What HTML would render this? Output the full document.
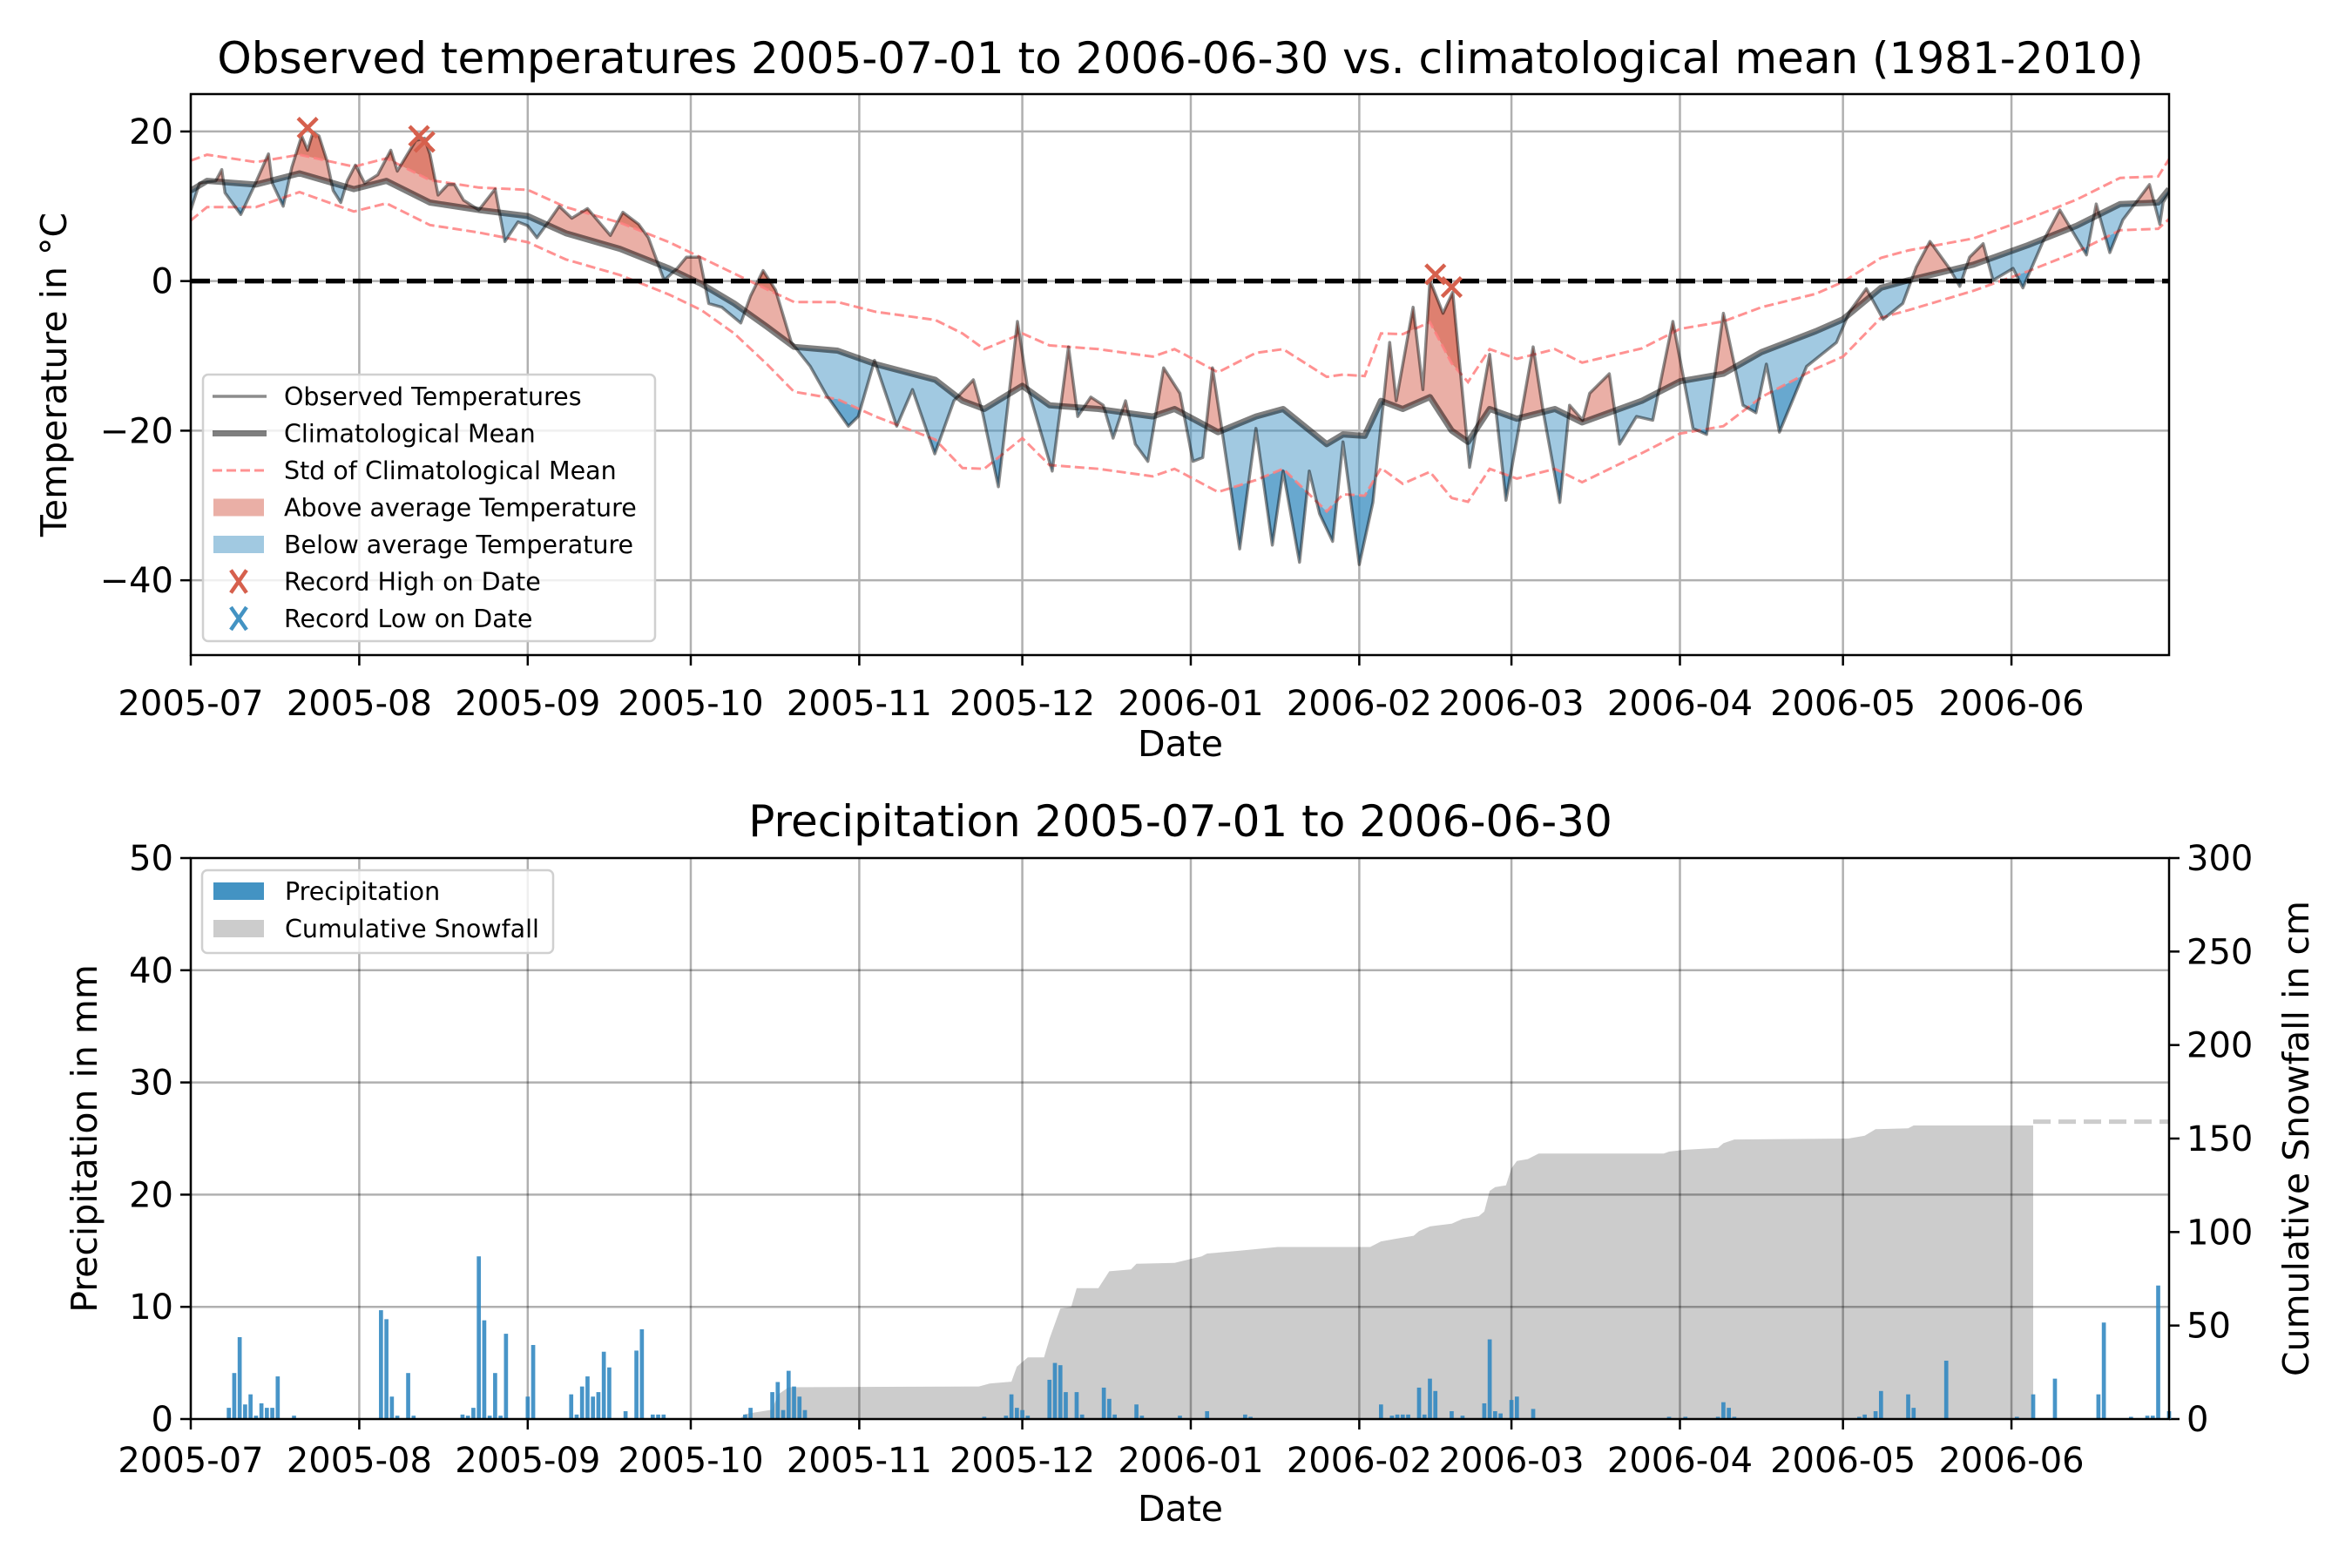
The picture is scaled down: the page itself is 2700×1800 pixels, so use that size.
<!DOCTYPE html>
<html><head><meta charset="utf-8">
<style>
html,body{margin:0;padding:0;background:#fff;}
svg{display:block;font-family:"DejaVu Sans","Liberation Sans",sans-serif;}
</style></head>
<body>
<svg id="fig" xmlns="http://www.w3.org/2000/svg" width="2700" height="1800" viewBox="0 0 2700 1800">
<rect x="0" y="0" width="2700" height="1800" fill="#fff"/>
<defs></defs>
<text x="1355" y="84" font-size="50" text-anchor="middle">Observed temperatures 2005-07-01 to 2006-06-30 vs. climatological mean (1981-2010)</text>
<text x="1355" y="960" font-size="50" text-anchor="middle">Precipitation 2005-07-01 to 2006-06-30</text>
<text transform="translate(76,430) rotate(-90)" font-size="41" text-anchor="middle">Temperature in °C</text>
<text transform="translate(111,1307) rotate(-90)" font-size="41" text-anchor="middle">Precipitation in mm</text>
<text transform="translate(2650,1307) rotate(-90)" font-size="41" text-anchor="middle">Cumulative Snowfall in cm</text>
<text x="1355" y="868" font-size="41" text-anchor="middle">Date</text>
<text x="1355" y="1746" font-size="41" text-anchor="middle">Date</text>
<g id="topPanel"></g>
<g id="botPanel"></g>
</svg>
<script>
const monthLabels=["2005-07","2005-08","2005-09","2005-10","2005-11","2005-12","2006-01","2006-02","2006-03","2006-04","2006-05","2006-06"];
const monthDays=[0,31,62,92,123,153,184,215,243,274,304,335];
const tempTicks=[20,0,-20,-40];
const precipTicks=[0,10,20,30,40,50];
const snowTicks=[0,50,100,150,200,250,300];
const meanDays=[0,3,12,20,30,36,44,53,62,69,79,88,94,100,106,111,119,126,137,142,146,153,158,167,177,181,189,196,201,209,212,216,219,223,228,232,235,239,244,251,256,267,274,282,289,299,304,311,316,328,338,347,355,362,364];
const meanVals=[12.1,13.4,12.9,14.4,12.3,13.4,10.5,9.5,8.7,6.4,4.3,1.7,-0.4,-3.0,-6.1,-8.8,-9.3,-11.1,-13.2,-16,-17.1,-14,-16.6,-17.1,-18.1,-17.1,-20.2,-18.1,-17.1,-21.8,-20.5,-20.7,-16,-17.1,-15.5,-20,-21.5,-17.1,-18.4,-17.1,-18.9,-16,-13.4,-12.4,-9.5,-6.7,-5.1,-0.9,0.1,2.2,4.8,7.4,10.3,10.5,12.3];
const stdVals=[4,3.5,3,2.5,3,3,3,3,3.5,3.5,3.5,3.5,3.5,4,5,6,6.5,7,8,9,8,7,8,8,8,8,8,8.5,8,9,8,8,9,10,10,9,8,8,8,8,8,7,7,7,6,5,5,4,4,3.5,3.5,3.5,3.5,3.5,4];
const obsDays=[0,1.6,4.6,5.7,6.3,9.2,11.6,14.3,15,17,18.6,20.4,21.5,22.5,23.6,25,26.2,27.6,28.8,30.3,32,34.4,36.8,38,41.4,43,44,45.5,47.3,48.5,50.2,53,56,57.8,60.2,62,63.7,65.5,67.8,70.1,73,77.2,79.5,82.4,84.2,87.1,89.5,91.2,93.6,95.3,97.7,101.2,103,105.3,107.6,110.5,114,117,121,122.8,125.8,129.9,132.8,136.9,140.4,144,145.7,148.6,152.1,153.9,158.5,161.5,163.2,165.6,167.9,169.7,172,173.8,176.1,179,182,184.4,186.2,188,189.9,193,196,199,201,204,205.8,207.7,210.1,212,215,217.5,220.6,221.8,224.9,226.7,228,230.4,232.2,235.3,239,242,247,248.8,251.9,253.7,256.1,257.4,261,262.9,266,269,272.7,276.4,278.9,282,285.6,288,289.9,292.3,297.3,302.8,305.2,308.3,311.4,315,317.5,320,323.6,325.5,327.3,329.8,331.6,335.3,337.1,340.8,343.9,348.8,350.6,353.1,355.5,360.4,362.3,362.9,364];
const obsVals=[9.5,13.1,13.4,14.9,11.8,8.9,12.6,17,13.1,10,15.2,19.4,17.5,19.9,19.4,16.2,12.1,10.5,13.4,15.5,13.1,14.2,17.5,14.7,18.8,19.1,17,11.5,12.9,12.9,10.8,9.5,12.3,5.3,7.9,7.4,5.8,7.6,10,8.4,9.7,6.1,9.2,7.6,5.8,0.1,1.7,3.2,3.2,-3,-3.5,-5.6,-2,1.4,-1.2,-8.2,-11.4,-15.3,-19.4,-18.1,-10.6,-19.4,-14.5,-23.1,-16,-13.2,-17.6,-27.5,-5.4,-14,-25.4,-8.8,-18.1,-15.5,-16.6,-21,-16,-21.8,-24.1,-11.6,-15,-24.1,-23.6,-11.6,-20.7,-35.8,-19.7,-35.3,-25.4,-37.6,-25.4,-31.1,-34.8,-21.5,-37.9,-29.6,-8.2,-16,-3.5,-14.5,0.1,-4.3,-1.5,-24.9,-9.8,-29.3,-8.8,-17.3,-29.6,-16.6,-18.6,-15,-12.4,-21.8,-18.1,-18.6,-5.4,-19.7,-20.5,-4.3,-16.6,-17.6,-11.1,-20.2,-11.4,-8.2,-4.1,-1,-5.1,-3,1.9,5.3,1.7,-0.7,3.2,5,0.1,1.7,-0.9,5.3,9.5,3.5,10.3,3.8,8.2,12.9,7.6,10.5,11.8];
const recordDays=[21.5,42,43,229,232];
const recordVals=[20.5,19.4,18.6,0.9,-0.8];
const precipDays=[7,8,9,10,11,12,13,14,15,16,19,35,36,37,38,40,41,50,51,52,53,54,55,56,57,58,62,63,70,71,72,73,74,75,76,77,80,82,83,85,86,87,102,103,107,108,109,110,111,112,113,146,150,151,152,153,154,158,159,160,161,163,164,168,169,170,174,175,182,187,194,195,219,221,222,223,224,226,227,228,229,232,234,238,239,240,241,243,244,247,272,275,281,282,283,284,307,308,310,311,316,317,323,336,339,343,351,352,357,360,361,362,364];
const precipVals=[1,4.1,7.3,1.3,2.2,0.3,1.4,1,1,3.8,0.3,9.7,8.9,2,0.3,4.1,0.3,0.4,0.3,1,14.5,8.8,0.3,4.1,0.3,7.6,2,6.6,2.2,0.4,2.9,3.8,2,2.4,6,4.6,0.7,6.1,8,0.4,0.4,0.4,0.4,1,2.4,3.3,0.8,4.3,2.9,2,0.8,0.2,0.3,2.2,1,0.8,0.3,3.5,5,4.8,2.4,2.4,0.4,2.8,1.8,0.4,1.3,0.3,0.3,0.7,0.4,0.2,1.3,0.3,0.4,0.4,0.4,2.8,0.4,3.6,2.5,0.7,0.3,1.4,7.1,0.7,0.5,1.7,2,0.9,0.2,0.2,0.2,1.5,1,0.2,0.2,0.4,0.7,2.5,2.2,1,5.2,0.2,2.2,3.6,2.2,8.6,0.2,0.3,0.3,11.9,0.7];
const snowDays=[101,102,107,108,110,145,147,151,152,154,157,158,160,162,163,167,169,173,174,181,186,187,193,200,217,219,222,225,226,228,232,234,237,238,239,240,242,243,244,246,248,271,272,275,281,282,284,305,308,310,316,317,339];
const snowVals=[0,2.7,5,13,17,17.4,19,20,28,33,33,43,59,60,70,70,79,80,83,83.5,87,88.5,90,92,92,95,96.5,98,100.5,103,104.5,107,108.5,111,122,124,125,134,138,139,142,142,143,144,145,147.5,149.5,150,151.5,155,155.5,157,157];
const snowSeasonTotal=159;

const NS="http://www.w3.org/2000/svg";
const X0=219,X1=2490;
const xd=d=>X0+(X1-X0)*d/364;
const T_TOP=108,T_BOT=752;
const yt=v=>T_BOT-(v+50)/75*(T_BOT-T_TOP);
const B_TOP=985,B_BOT=1629;
const yp=v=>B_BOT-v/50*(B_BOT-B_TOP);
const ys=v=>B_BOT-v/300*(B_BOT-B_TOP);
function mk(tag,attrs,parent){const e=document.createElementNS(NS,tag);for(const k in attrs)e.setAttribute(k,attrs[k]);parent.appendChild(e);return e;}
const svgEl=document.getElementById('fig');
const defsEl=svgEl.querySelector('defs');
const topG=document.getElementById('topPanel');
const botG=document.getElementById('botPanel');
const TF=40, LF=28.5;

// ---------- top panel ----------
for(let i=0;i<monthDays.length;i++){
 const g=mk('line',{x1:xd(monthDays[i]),x2:xd(monthDays[i]),y1:T_TOP,y2:T_BOT,stroke:'#b0b0b0','stroke-width':2.5},topG);
 
 
 const t=mk('line',{x1:xd(monthDays[i]),x2:xd(monthDays[i]),y1:T_BOT,y2:T_BOT+12,stroke:'#000','stroke-width':2.5},topG);
 
 
 const l=mk('text',{x:xd(monthDays[i]),y:T_BOT+69,'font-size':TF,'text-anchor':'middle'},topG);
 l.textContent=monthLabels[i];
 
 
}
for(const v of tempTicks){
 const g=mk('line',{x1:X0,x2:X1,y1:yt(v),y2:yt(v),stroke:'#b0b0b0','stroke-width':2.5},topG);
 
 
 const t=mk('line',{x1:X0-12,x2:X0,y1:yt(v),y2:yt(v),stroke:'#000','stroke-width':2.5},topG);
 
 
 const l=mk('text',{x:X0-20,y:yt(v)+14,'font-size':TF,'text-anchor':'end'},topG);
 l.textContent=(v<0?'\u2212'+(-v):String(v));
 
 
}
const meanPts=meanDays.map((d,i)=>[xd(d),yt(meanVals[i])]);
const upPts=meanDays.map((d,i)=>[xd(d),yt(meanVals[i]+stdVals[i])]);
const loPts=meanDays.map((d,i)=>[xd(d),yt(meanVals[i]-stdVals[i])]);
const obsPts=obsDays.map((d,i)=>[xd(d),yt(obsVals[i])]);
const ps=a=>a.map(p=>p[0].toFixed(1)+','+p[1].toFixed(1)).join(' ');
function clip(id,pts,above){
 const c=mk('clipPath',{id:id},defsEl);
 const edge=above?T_TOP-50:T_BOT+50;
 mk('polygon',{points:ps(pts)+' '+(X1+20)+','+pts[pts.length-1][1]+' '+(X1+20)+','+edge+' '+(X0-20)+','+edge+' '+(X0-20)+','+pts[0][1]},c);
}
clip('cAboveMean',meanPts,true);clip('cBelowMean',meanPts,false);
clip('cAboveUp',upPts,true);clip('cBelowLo',loPts,false);
const cp=mk('clipPath',{id:'cPlot'},defsEl);
mk('rect',{x:X0,y:T_TOP,width:X1-X0,height:T_BOT-T_TOP},cp);
const series=mk('g',{'clip-path':'url(#cPlot)'},topG);
const betweenMean=ps(obsPts)+' '+ps(meanPts.slice().reverse());
const fa=mk('polygon',{points:betweenMean,fill:'#d6604d','fill-opacity':0.5,'clip-path':'url(#cAboveMean)'},series);


const fb=mk('polygon',{points:betweenMean,fill:'#4393c3','fill-opacity':0.5,'clip-path':'url(#cBelowMean)'},series);


const fa2=mk('polygon',{points:ps(obsPts)+' '+ps(upPts.slice().reverse()),fill:'#d6604d','fill-opacity':0.6,'clip-path':'url(#cAboveUp)'},series);


const fb2=mk('polygon',{points:ps(obsPts)+' '+ps(loPts.slice().reverse()),fill:'#4393c3','fill-opacity':0.6,'clip-path':'url(#cBelowLo)'},series);


const su=mk('polyline',{points:ps(upPts),fill:'none',stroke:'#ff7f7f','stroke-opacity':0.85,'stroke-width':3,'stroke-dasharray':'11,5'},series);


const sl=mk('polyline',{points:ps(loPts),fill:'none',stroke:'#ff7f7f','stroke-opacity':0.85,'stroke-width':3,'stroke-dasharray':'11,5'},series);


const ml=mk('polyline',{points:ps(meanPts),fill:'none',stroke:'#000','stroke-opacity':0.5,'stroke-width':7,'stroke-linejoin':'round'},series);


const ol=mk('polyline',{points:ps(obsPts),fill:'none',stroke:'#000','stroke-opacity':0.45,'stroke-width':3.5,'stroke-linejoin':'round'},series);


const zl=mk('line',{x1:X0,x2:X1,y1:yt(0),y2:yt(0),stroke:'#000','stroke-width':5.5,'stroke-dasharray':'22,9'},series);


for(let i=0;i<recordDays.length;i++){
 const cx=xd(recordDays[i]),cy=yt(recordVals[i]),r=11;
 const m=mk('path',{d:`M${cx-r},${cy-r}L${cx+r},${cy+r}M${cx-r},${cy+r}L${cx+r},${cy-r}`,stroke:'#d6604d','stroke-width':4.5},series);
 
 
}
const tf=mk('rect',{x:X0,y:T_TOP,width:X1-X0,height:T_BOT-T_TOP,fill:'none',stroke:'#000','stroke-width':2.5},topG);


// top legend
const lg=mk('g',{},topG);


mk('rect',{x:233,y:430,width:519,height:306,rx:6,fill:'#fff','fill-opacity':0.8,stroke:'#d0d0d0','stroke-width':2.5},lg);
const legItems=[['line','#000',0.45,3.5,'Observed Temperatures'],['line','#000',0.5,7,'Climatological Mean'],['dash','#ff7f7f',0.85,3,'Std of Climatological Mean'],['patch','#d6604d',0.5,0,'Above average Temperature'],['patch','#4393c3',0.5,0,'Below average Temperature'],['x','#d6604d',1,4.5,'Record High on Date'],['x','#4393c3',1,4.5,'Record Low on Date']];
legItems.forEach((it,i)=>{
 const cy=455+i*42.5;
 const g=mk('g',{},lg);
 
 
 if(it[0]==='line'||it[0]==='dash'){mk('line',{x1:244,x2:306,y1:cy,y2:cy,stroke:it[1],'stroke-opacity':it[2],'stroke-width':it[3],'stroke-dasharray':it[0]==='dash'?'11,5':'none'},g);}
 else if(it[0]==='patch'){mk('rect',{x:245,y:cy-10,width:58,height:20,fill:it[1],'fill-opacity':it[2]},g);}
 else{mk('path',{d:`M265,${cy-13}L283,${cy+13}M265,${cy+13}L283,${cy-13}`,stroke:it[1],'stroke-width':4.5},g);}
 const t=mk('text',{x:326,y:cy+10,'font-size':LF},g);t.textContent=it[4];
});

// ---------- bottom panel ----------
const snowPts=snowDays.map((d,i)=>[xd(d),ys(snowVals[i])]);
const sf=mk('polygon',{points:xd(snowDays[0])+','+B_BOT+' '+ps(snowPts)+' '+xd(snowDays[snowDays.length-1])+','+B_BOT,fill:'#cccccc'},botG);


const sd=mk('line',{x1:xd(snowDays[snowDays.length-1]),x2:X1,y1:ys(snowSeasonTotal),y2:ys(snowSeasonTotal),stroke:'#cccccc','stroke-width':5,'stroke-dasharray':'20,9'},botG);


for(let i=0;i<monthDays.length;i++){
 const g=mk('line',{x1:xd(monthDays[i]),x2:xd(monthDays[i]),y1:B_TOP,y2:B_BOT,stroke:'#000','stroke-opacity':0.31,'stroke-width':2.5},botG);
 
 
 const t=mk('line',{x1:xd(monthDays[i]),x2:xd(monthDays[i]),y1:B_BOT,y2:B_BOT+12,stroke:'#000','stroke-width':2.5},botG);
 
 
 const l=mk('text',{x:xd(monthDays[i]),y:B_BOT+61,'font-size':TF,'text-anchor':'middle'},botG);
 l.textContent=monthLabels[i];
 
 
}
for(const v of precipTicks){
 if(v>0&&v<50){const g=mk('line',{x1:X0,x2:X1,y1:yp(v),y2:yp(v),stroke:'#000','stroke-opacity':0.31,'stroke-width':2.5},botG);
 
 }
 const t=mk('line',{x1:X0-12,x2:X0,y1:yp(v),y2:yp(v),stroke:'#000','stroke-width':2.5},botG);
 
 
 const l=mk('text',{x:X0-20,y:yp(v)+14,'font-size':TF,'text-anchor':'end'},botG);
 l.textContent=String(v);
 
 
}
for(const v of snowTicks){
 const t=mk('line',{x1:X1,x2:X1+12,y1:ys(v),y2:ys(v),stroke:'#000','stroke-width':2.5},botG);
 
 
 const l=mk('text',{x:X1+20,y:ys(v)+14,'font-size':TF},botG);
 l.textContent=String(v);
 
 
}
const bw=(X1-X0)/364*0.75;
for(let i=0;i<precipDays.length;i++){
 const h=B_BOT-yp(precipVals[i]);
 const b=mk('rect',{x:xd(precipDays[i])-bw/2,y:yp(precipVals[i]),width:bw,height:h,fill:'#2f86c0','fill-opacity':0.88},botG);
 
 
}
const bf=mk('rect',{x:X0,y:B_TOP,width:X1-X0,height:B_BOT-B_TOP,fill:'none',stroke:'#000','stroke-width':2.5},botG);


const lg2=mk('g',{},botG);


mk('rect',{x:232,y:999,width:403,height:95,rx:6,fill:'#fff','fill-opacity':0.8,stroke:'#d0d0d0','stroke-width':2.5},lg2);
const e1=mk('g',{},lg2);


mk('rect',{x:245,y:1013,width:58,height:20,fill:'#4393c3'},e1);
const t1=mk('text',{x:327,y:1033,'font-size':LF},e1);t1.textContent='Precipitation';
const e2=mk('g',{},lg2);


mk('rect',{x:245,y:1056,width:58,height:20,fill:'#cccccc'},e2);
const t2=mk('text',{x:327,y:1076,'font-size':LF},e2);t2.textContent='Cumulative Snowfall';
</script>
</body></html>
